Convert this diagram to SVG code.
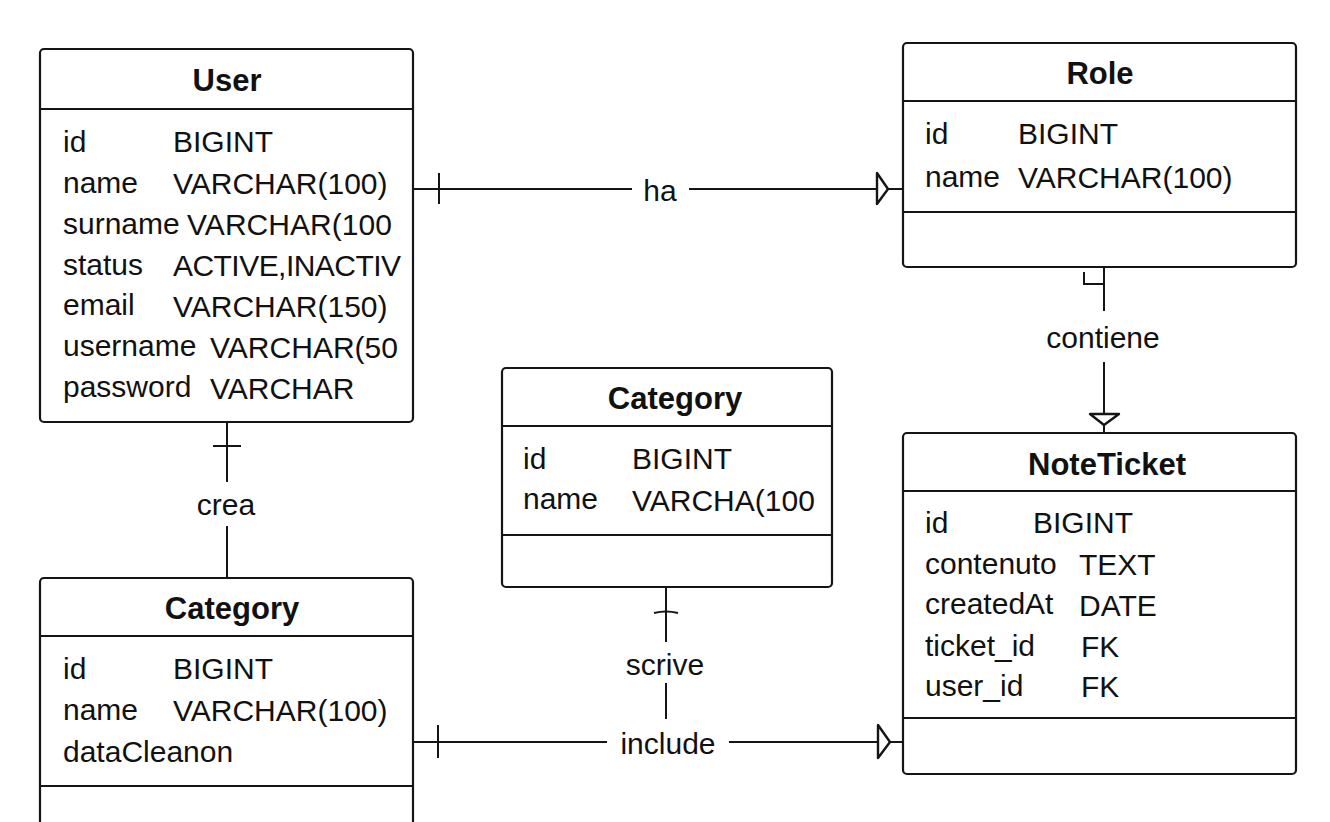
<svg xmlns="http://www.w3.org/2000/svg" width="1330" height="822" viewBox="0 0 1330 822">
<style>
.box{fill:#fff;stroke:#151515;stroke-width:2.2}
.div{stroke:#151515;stroke-width:2}
.t{font-family:"Liberation Sans",Arial,sans-serif;font-size:31px;font-weight:bold;fill:#111;text-anchor:middle}
.a{font-family:"Liberation Sans",Arial,sans-serif;font-size:30px;fill:#111}
.l{font-family:"Liberation Sans",Arial,sans-serif;font-size:30px;fill:#111;text-anchor:middle}
.c{fill:none;stroke:#151515;stroke-width:2}
.m{fill:#fff;stroke:#151515;stroke-width:2.4;stroke-linejoin:round}
</style>
<rect width="1330" height="822" fill="#fff"/>
<g id="connectors">
  <!-- ha -->
  <line class="c" x1="413" y1="189" x2="632" y2="189"/>
  <line class="c" x1="689" y1="189" x2="877" y2="189"/>
  <line class="c" x1="888" y1="189" x2="903" y2="189"/>
  <line class="c" x1="439" y1="173" x2="439" y2="204"/>
  <path class="m" d="M877,173 L877,204 L888,189 Z"/>
  <text class="l" x="660" y="201">ha</text>
  <!-- contiene -->
  <line class="c" x1="1104" y1="267" x2="1104" y2="311"/>
  <path class="c" d="M1084,272 L1084,284 L1104,284"/>
  <line class="c" x1="1104" y1="362" x2="1104" y2="414"/>
  <line class="c" x1="1104" y1="425" x2="1104" y2="433"/>
  <path class="m" d="M1090,414 L1119,414 L1104,425 Z"/>
  <text class="l" x="1103" y="348">contiene</text>
  <!-- crea -->
  <line class="c" x1="227" y1="422" x2="227" y2="482"/>
  <line class="c" x1="213" y1="446" x2="241" y2="446"/>
  <line class="c" x1="227" y1="526" x2="227" y2="578"/>
  <text class="l" x="226" y="515">crea</text>
  <!-- scrive -->
  <line class="c" x1="666" y1="587" x2="666" y2="642"/>
  <path class="c" d="M654,613 Q666,610 678,613"/>
  <line class="c" x1="666" y1="683" x2="666" y2="719"/>
  <text class="l" x="665" y="675">scrive</text>
  <!-- include -->
  <line class="c" x1="413" y1="742" x2="607" y2="742"/>
  <line class="c" x1="729" y1="742" x2="878" y2="742"/>
  <line class="c" x1="890" y1="742" x2="903" y2="742"/>
  <line class="c" x1="438" y1="725" x2="438" y2="758"/>
  <path class="m" d="M878,725 L878,758 L890,742 Z"/>
  <text class="l" x="668" y="754">include</text>
</g>
<g id="user">
  <rect class="box" x="40" y="49" width="373" height="373" rx="4"/>
  <line class="div" x1="40" y1="109" x2="413" y2="109"/>
  <text class="t" x="227" y="91">User</text>
  <text class="a" x="63" y="152">id</text><text class="a" x="173" y="152">BIGINT</text>
  <text class="a" x="63" y="193">name</text><text class="a" x="173" y="194">VARCHAR(100)</text>
  <text class="a" x="63" y="234">surname</text><text class="a" x="187" y="235" textLength="205">VARCHAR(100</text>
  <text class="a" x="63" y="275">status</text><text class="a" x="173" y="276" textLength="228">ACTIVE,INACTIV</text>
  <text class="a" x="63" y="315">email</text><text class="a" x="173" y="317">VARCHAR(150)</text>
  <text class="a" x="63" y="356">username</text><text class="a" x="210" y="358" textLength="188">VARCHAR(50</text>
  <text class="a" x="63" y="397">password</text><text class="a" x="210" y="399">VARCHAR</text>
</g>
<g id="role">
  <rect class="box" x="903" y="43" width="393" height="224" rx="4"/>
  <line class="div" x1="903" y1="101" x2="1296" y2="101"/>
  <line class="div" x1="903" y1="212" x2="1296" y2="212"/>
  <text class="t" x="1100" y="84">Role</text>
  <text class="a" x="925" y="144">id</text><text class="a" x="1018" y="144">BIGINT</text>
  <text class="a" x="925" y="187">name</text><text class="a" x="1018" y="188">VARCHAR(100)</text>
</g>
<g id="category-middle">
  <rect class="box" x="502" y="368" width="330" height="219" rx="4"/>
  <line class="div" x1="502" y1="426" x2="832" y2="426"/>
  <line class="div" x1="502" y1="535" x2="832" y2="535"/>
  <text class="t" x="675" y="409">Category</text>
  <text class="a" x="523" y="469">id</text><text class="a" x="632" y="469">BIGINT</text>
  <text class="a" x="523" y="509">name</text><text class="a" x="632" y="511">VARCHA(100</text>
</g>
<g id="noteticket">
  <rect class="box" x="903" y="433" width="393" height="341" rx="4"/>
  <line class="div" x1="903" y1="491" x2="1296" y2="491"/>
  <line class="div" x1="903" y1="718" x2="1296" y2="718"/>
  <text class="t" x="1107" y="475">NoteTicket</text>
  <text class="a" x="925" y="533">id</text><text class="a" x="1033" y="533">BIGINT</text>
  <text class="a" x="925" y="574">contenuto</text><text class="a" x="1079" y="575">TEXT</text>
  <text class="a" x="925" y="614">createdAt</text><text class="a" x="1079" y="616">DATE</text>
  <text class="a" x="925" y="656">ticket_id</text><text class="a" x="1081" y="657">FK</text>
  <text class="a" x="925" y="696">user_id</text><text class="a" x="1081" y="697">FK</text>
</g>
<g id="category-bottom">
  <rect class="box" x="40" y="578" width="373" height="270" rx="4"/>
  <line class="div" x1="40" y1="636" x2="413" y2="636"/>
  <line class="div" x1="40" y1="786" x2="413" y2="786"/>
  <text class="t" x="232" y="619">Category</text>
  <text class="a" x="63" y="679">id</text><text class="a" x="173" y="679">BIGINT</text>
  <text class="a" x="63" y="720">name</text><text class="a" x="173" y="721">VARCHAR(100)</text>
  <text class="a" x="63" y="762">dataCleanon</text>
</g>
</svg>
